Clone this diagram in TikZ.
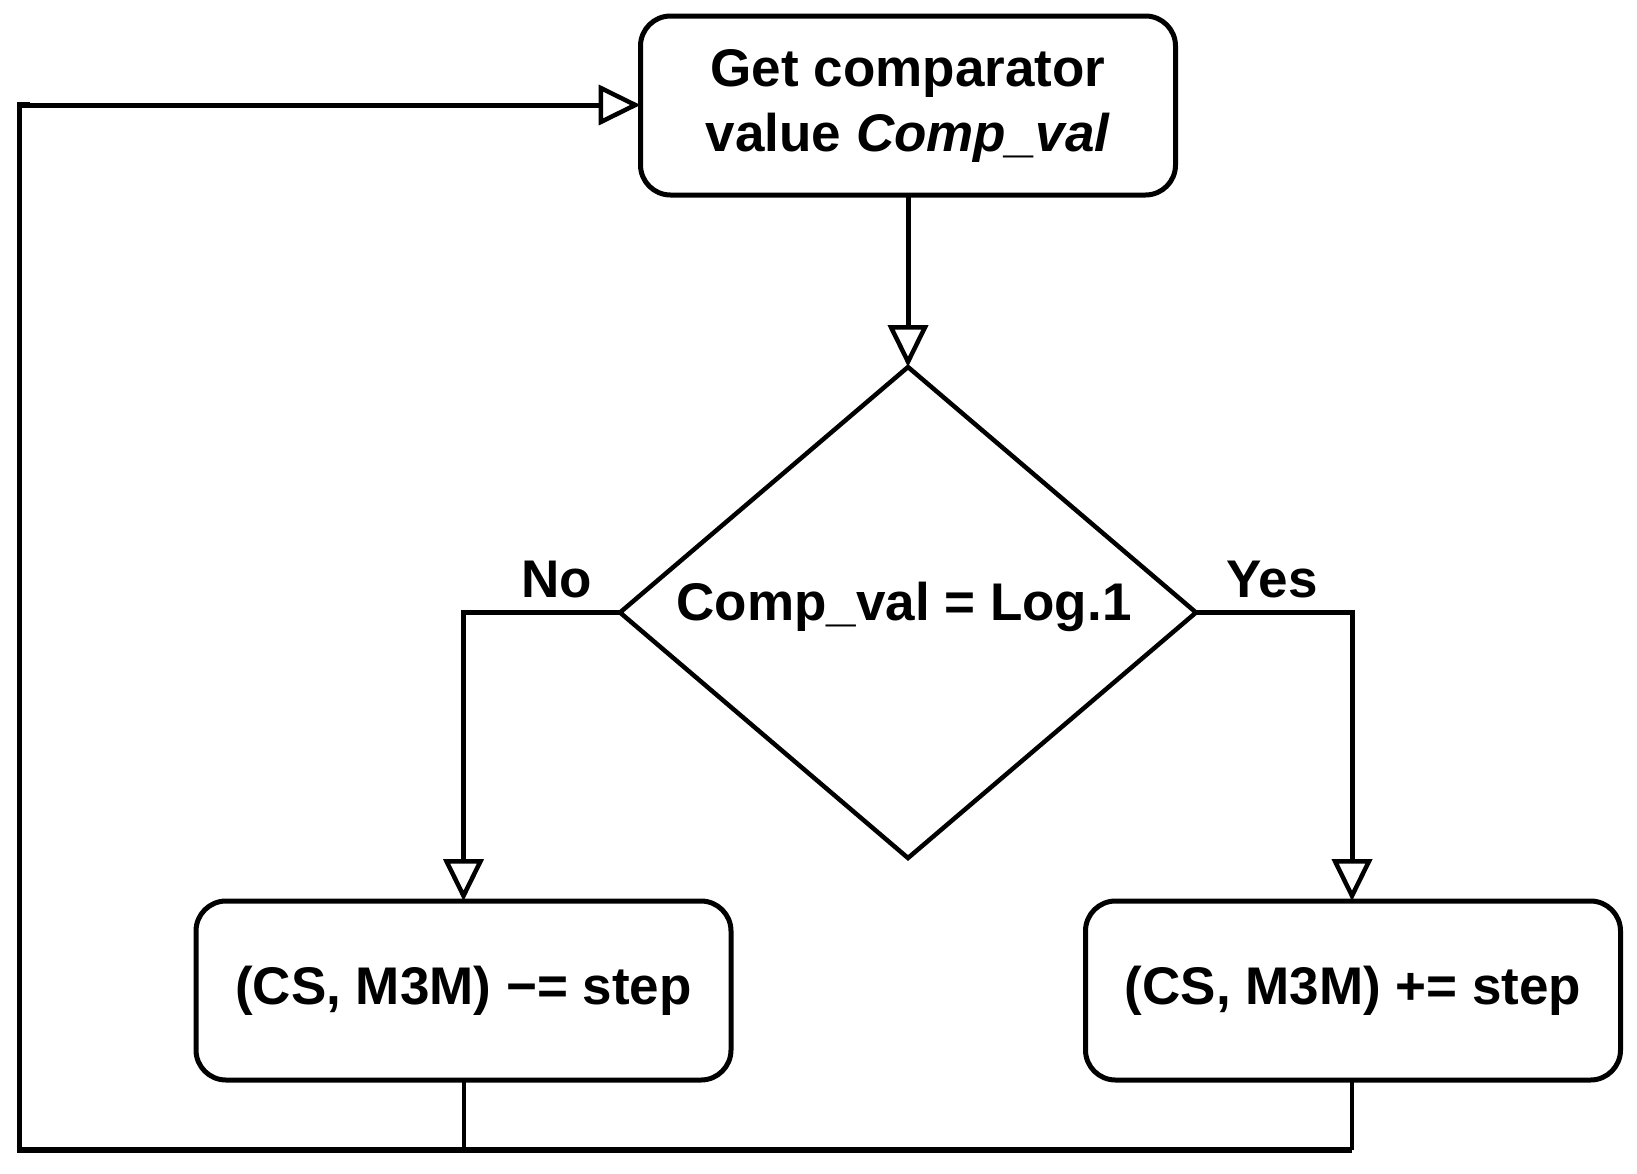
\documentclass[tikz,border=0pt]{standalone}
\usepackage{fontspec}
\setmainfont{Liberation Sans}
\usetikzlibrary{shapes.geometric,arrows.meta}
\tikzset{
  procbox/.style={draw, line width=5pt, rounded corners=30pt, inner sep=0pt, outer sep=0pt,
    minimum width=535pt, minimum height=179pt, align=center,
    font=\fontsize{53}{65}\selectfont\bfseries},
  decision/.style={draw, diamond, line width=4.5pt, inner sep=0pt, outer sep=0pt,
    minimum width=576pt, minimum height=491pt},
  lbl/.style={inner sep=0pt, font=\fontsize{53}{65}\selectfont\bfseries},
  flow/.style={line width=5pt, -{Triangle[open, length=42pt, width=40pt, line width=4.5pt]}},
  wire/.style={line width=5.5pt},
  thinwire/.style={line width=4pt}
}
\begin{document}
\begin{tikzpicture}[x=1pt,y=-1pt]
\useasboundingbox (0,0) rectangle (1637,1173);
\node[procbox] (get) at (908,105.5) {Get comparator\\value \textit{Comp\_val}};
\node[decision] (dec) at (908,612.5) {};
\node[lbl, anchor=base] (dtext) at (904,620) {Comp\_val = Log.1};
\node[procbox] (minus) at (463.5,990.5) {(CS, M3M) −= step};
\node[procbox] (plus) at (1353,990.5) {(CS, M3M) += step};
\node[lbl, anchor=base] (no) at (557,597) {No};
\node[lbl, anchor=base] (yes) at (1272,597) {Yes};
\coordinate (lb) at (463.5,1150);
\coordinate (rb) at (1352,1150);
\coordinate (lc) at (19.5,1150);
\coordinate (lt) at (19.5,105);
\draw[flow] (get.south) -- (dec.north);
\draw[flow] (dec.west) -| (minus.north -| lb);
\draw[flow] (dec.east) -| (plus.north -| rb);
\draw[thinwire] (minus.south -| lb) -- (lb);
\draw[thinwire] (plus.south -| rb) -- (rb);
\draw[wire, line join=miter] (rb) -- (lc) -- (lt) -- ++(10,0);
\draw[flow] (lt) -- (get.west |- lt);
\end{tikzpicture}
\end{document}
